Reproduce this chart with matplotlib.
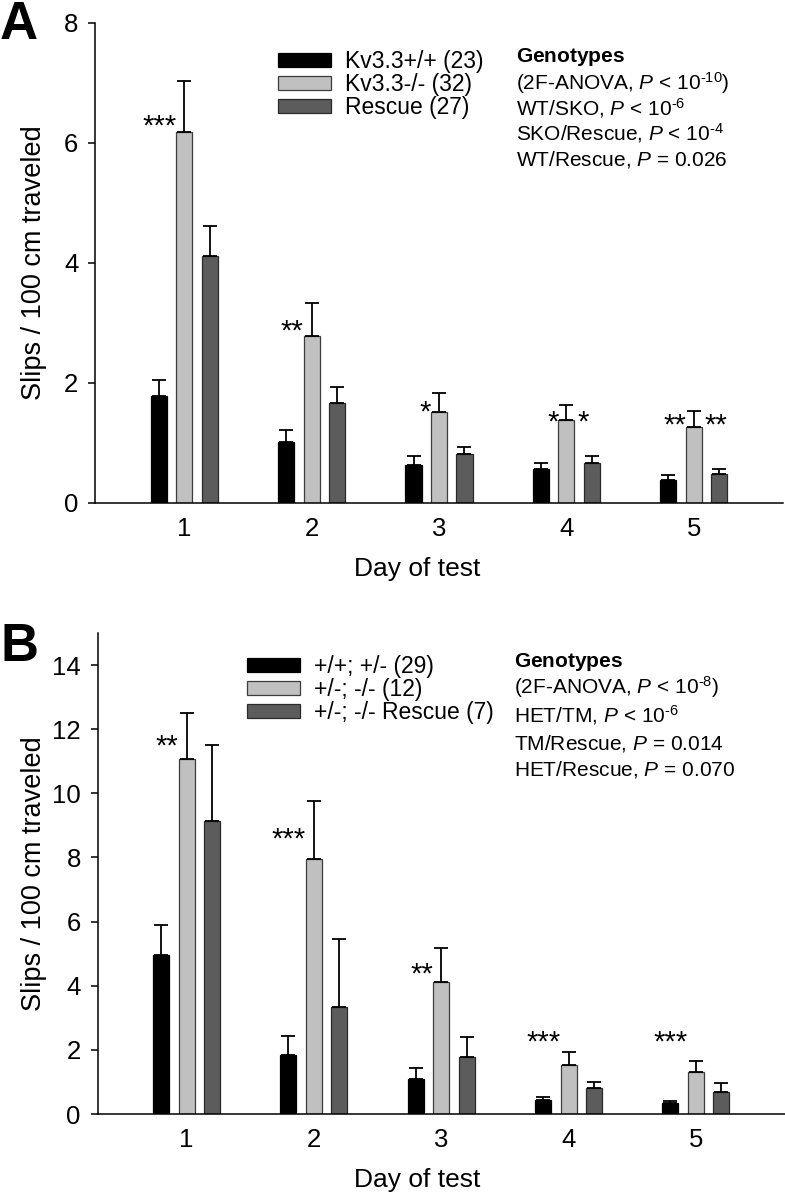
import matplotlib
matplotlib.use("Agg")
import matplotlib.pyplot as plt
import numpy as np

plt.rcParams['font.family'] = ['Liberation Sans', 'DejaVu Sans']
plt.rcParams['mathtext.fontset'] = 'custom'
plt.rcParams['mathtext.rm'] = 'Liberation Sans'
plt.rcParams['mathtext.it'] = 'Liberation Sans:italic'
plt.rcParams['mathtext.bf'] = 'Liberation Sans:bold'

# ---------------- data ----------------
days = [1, 2, 3, 4, 5]
day_labels = ['1', '2', '3', '4', '5']

# Panel A
a_labels = ['Kv3.3+/+ (23)', 'Kv3.3-/- (32)', 'Rescue (27)']
a_wt_mean = [1.79, 1.02, 0.64, 0.57, 0.38]
a_wt_sem = [0.26, 0.20, 0.14, 0.10, 0.08]
a_ko_mean = [6.18, 2.79, 1.52, 1.38, 1.26]
a_ko_sem = [0.85, 0.55, 0.31, 0.25, 0.27]
a_res_mean = [4.12, 1.66, 0.81, 0.66, 0.48]
a_res_sem = [0.50, 0.27, 0.13, 0.13, 0.08]
a_yticks = [0, 2, 4, 6, 8]
a_stats = [r'$\bf{Genotypes}$',
           r'(2F-ANOVA, $\it{P}$ < 10$^{\text{-10}}$)',
           r'WT/SKO, $\it{P}$ < 10$^{\text{-6}}$',
           r'SKO/Rescue, $\it{P}$ < 10$^{\text{-4}}$',
           r'WT/Rescue, $\it{P}$ = 0.026']
# significance marks: (day, side, text, y of glyph centre)
a_stars = [(1, 'L', '***', 6.43), (2, 'L', '**', 3.02), (3, 'L', '*', 1.67),
           (4, 'L', '*', 1.50), (4, 'R', '*', 1.50),
           (5, 'L', '**', 1.44), (5, 'R', '**', 1.44)]

# Panel B
b_labels = ['+/+; +/- (29)', '+/-; -/- (12)', '+/-; -/- Rescue (7)']
b_wt_mean = [4.96, 1.83, 1.08, 0.43, 0.33]
b_wt_sem = [0.93, 0.60, 0.37, 0.10, 0.07]
b_ko_mean = [11.08, 7.95, 4.13, 1.53, 1.32]
b_ko_sem = [1.44, 1.81, 1.06, 0.39, 0.34]
b_res_mean = [9.14, 3.35, 1.79, 0.82, 0.68]
b_res_sem = [2.36, 2.10, 0.62, 0.19, 0.28]
b_yticks = [0, 2, 4, 6, 8, 10, 12, 14]
b_stats = [r'$\bf{Genotypes}$',
           r'(2F-ANOVA, $\it{P}$ < 10$^{\text{-8}}$)',
           r'HET/TM, $\it{P}$ < 10$^{\text{-6}}$',
           r'TM/Rescue, $\it{P}$ = 0.014',
           r'HET/Rescue, $\it{P}$ = 0.070']
b_stars = [(1, 'L', '**', 11.75), (2, 'L', '***', 8.85), (3, 'L', '**', 4.64),
           (4, 'L', '***', 2.52), (5, 'L', '***', 2.52)]

ylabel = 'Slips / 100 cm traveled'
xlabel = 'Day of test'

# ---------------- figure ----------------
W, H = 785, 1199
fig = plt.figure(figsize=(W / 100, H / 100), dpi=100)

def ax_rect(l, r, t, b):
    return [l / W, 1 - b / H, (r - l) / W, (b - t) / H]

colors = ['#000000', '#c0c0c0', '#5c5c5c']
edges = ['#000000', '#3c3c3c', '#2a2a2a']
bw = 0.126
off = 0.2

def panel(rect, means, sems, labels, yticks, ymax, stats, stars, leg_xy, stat_x, stat_ys, letter, letter_y):
    ax = fig.add_axes(rect)
    x = np.array(days, dtype=float)
    for i, (m, s) in enumerate(zip(means, sems)):
        ax.bar(x + (i - 1) * off, m, bw, color=colors[i], edgecolor=edges[i], linewidth=0.9,
               yerr=[np.zeros(len(s)), s], error_kw=dict(ecolor='black', elinewidth=1.3,
                                                         capsize=5, capthick=1.3),
               label=labels[i], zorder=2)
    ax.set_xlim(0.3, 5.7)
    ax.set_ylim(0, ymax)
    ax.set_yticks(yticks)
    ax.set_xticks(days)
    ax.set_xticklabels(day_labels)
    for sp in ['top', 'right']:
        ax.spines[sp].set_visible(False)
    for sp in ['left', 'bottom']:
        ax.spines[sp].set_linewidth(1.1)
    ax.tick_params(axis='y', length=5, width=1.1, pad=7, labelsize=18.5, direction='out')
    ax.tick_params(axis='x', length=0, pad=10, labelsize=18.5)
    ax.set_ylabel(ylabel, fontsize=19.5)
    ax.set_xlabel(xlabel, fontsize=19)
    l_px = rect[0] * W
    w_px = rect[2] * W
    h_px = rect[3] * H
    ax.yaxis.set_label_coords((47 - l_px) / w_px, 0.5)
    ax.xaxis.set_label_coords((417 - l_px) / w_px, -54 / h_px)

    for d, side, txt, yc in stars:
        if side == 'L':
            ax.annotate(txt, (d - bw / 2, yc), xytext=(0, -12.5), textcoords='offset points',
                        ha='right', va='baseline', fontsize=21)
        else:
            ax.annotate(txt, (d + bw / 2, yc), xytext=(2, -12.5), textcoords='offset points',
                        ha='left', va='baseline', fontsize=21)

    ax.legend(loc='upper left', bbox_to_anchor=(leg_xy[0] / W, 1 - leg_xy[1] / H),
              bbox_transform=fig.transFigure, frameon=False, fontsize=16.5,
              handlelength=2.3, handleheight=0.62, handletextpad=0.62,
              labelspacing=0.0, borderpad=0, borderaxespad=0)
    for ln, yb in zip(stats, stat_ys):
        fig.text(stat_x / W, 1 - yb / H, ln, fontsize=15, ha='left', va='baseline')
    fig.text(0 / W, 1 - letter_y / H, letter, fontsize=38, fontweight='bold', ha='left', va='baseline')
    return ax

panel(ax_rect(95, 783, 23, 503), [a_wt_mean, a_ko_mean, a_res_mean],
      [a_wt_sem, a_ko_sem, a_res_sem], a_labels, a_yticks, 8, a_stats, a_stars,
      (278, 50), 516, [62, 90, 115, 140, 165], 'A', 39)

panel(ax_rect(97.5, 785, 633, 1114), [b_wt_mean, b_ko_mean, b_res_mean],
      [b_wt_sem, b_ko_sem, b_res_sem], b_labels, b_yticks, 15, b_stats, b_stars,
      (247, 655), 514, [667, 694, 722, 749, 775], 'B', 661)

fig.savefig('out.png', dpi=100)
